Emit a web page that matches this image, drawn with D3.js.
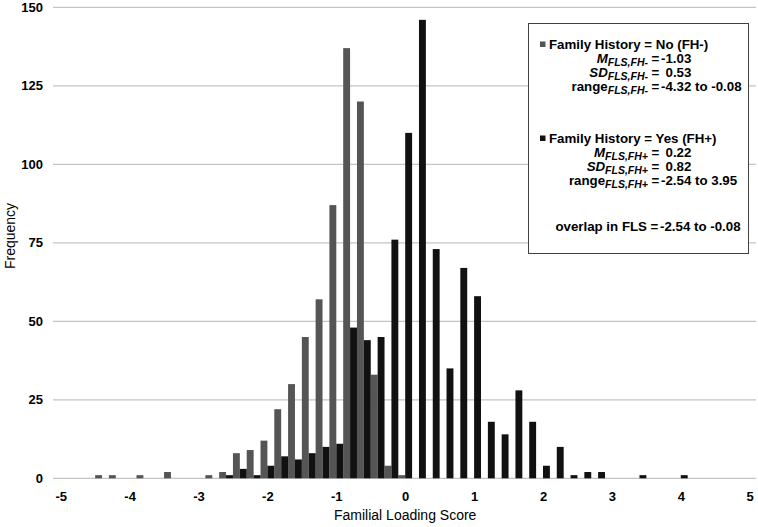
<!DOCTYPE html>
<html>
<head>
<meta charset="utf-8">
<script src="https://cdn.jsdelivr.net/npm/d3@7"></script>
<style>
  body { margin: 0; background: #fff; }
  svg { display: block; font-family: "Liberation Sans", Arial, sans-serif; }
  .tick text { font-weight: bold; font-size: 13px; fill: #000; }
  .legend text { font-weight: bold; font-size: 13.3px; fill: #000; }
</style>
</head>
<body>
<div id="chart"></div>
<script>
// Histogram bin centres (width 0.2)
const binCenters = [-4.4, -4.2, -4.0, -3.8, -3.6, -3.4, -3.2, -3.0, -2.8, -2.6, -2.4, -2.2, -2.0,
  -1.8, -1.6, -1.4, -1.2, -1.0, -0.8, -0.6, -0.4, -0.2, 0.0, 0.2, 0.4, 0.6, 0.8, 1.0, 1.2,
  1.4, 1.6, 1.8, 2.0, 2.2, 2.4, 2.6, 2.8, 3.0, 3.2, 3.4, 3.6, 3.8, 4.0];

// Family History = No (FH-)
const freqNo = [1, 1, 0, 1, 0, 2, 0, 0, 1, 2, 8, 9, 12,
  22, 30, 45, 57, 87, 137, 120, 33, 4, 1, 0, 0, 0, 0, 0, 0,
  0, 0, 0, 0, 0, 0, 0, 0, 0, 0, 0, 0, 0, 0];

// Family History = Yes (FH+)
const freqYes = [0, 0, 0, 0, 0, 0, 0, 0, 0, 1, 3, 1, 4,
  7, 6, 8, 10, 11, 48, 44, 45, 76, 110, 146, 73, 35, 67, 58, 18,
  14, 28, 18, 4, 10, 1, 2, 2, 0, 0, 1, 0, 0, 1];

const xTicks = [-5, -4, -3, -2, -1, 0, 1, 2, 3, 4, 5];
const yTicks = [0, 25, 50, 75, 100, 125, 150];

const BIN = 0.2;
const COLOR_NO = '#555555';
const COLOR_YES = '#111111';

const W = 758, H = 527;
const GRID_LEFT = 53, GRID_RIGHT = 756;

const svg = d3.select('#chart').append('svg')
  .attr('width', W)
  .attr('height', H);

const x = d3.scaleLinear().domain([-5, 5]).range([60.7, 749.7]);
const y = d3.scaleLinear().domain([0, 150]).range([478.3, 7.3]);

// gridlines
svg.append('g')
  .selectAll('line')
  .data(yTicks)
  .enter()
  .append('line')
  .attr('x1', GRID_LEFT)
  .attr('x2', GRID_RIGHT)
  .attr('y1', d => y(d))
  .attr('y2', d => y(d))
  .attr('stroke', '#c4c4c4')
  .attr('stroke-width', 1.3);

// bars: FH- on the left half of each bin, FH+ on the right half
const bars = binCenters.map((c, i) => ({ c, no: freqNo[i], yes: freqYes[i] }));

svg.append('g')
  .selectAll('rect')
  .data(bars.filter(d => d.no > 0))
  .enter()
  .append('rect')
  .attr('x', d => x(d.c - BIN / 2))
  .attr('width', d => x(d.c) - x(d.c - BIN / 2))
  .attr('y', d => y(d.no))
  .attr('height', d => y(0) - y(d.no))
  .attr('fill', COLOR_NO);

svg.append('g')
  .selectAll('rect')
  .data(bars.filter(d => d.yes > 0))
  .enter()
  .append('rect')
  .attr('x', d => x(d.c))
  .attr('width', d => x(d.c + BIN / 2) - x(d.c))
  .attr('y', d => y(d.yes))
  .attr('height', d => y(0) - y(d.yes))
  .attr('fill', COLOR_YES);

// axes (labels only)
svg.append('g')
  .attr('transform', `translate(${GRID_LEFT},0)`)
  .call(d3.axisLeft(y).tickValues(yTicks).tickSize(0).tickPadding(10).tickFormat(d => String(d)))
  .call(g => g.select('.domain').remove());

svg.append('g')
  .attr('transform', `translate(0,${y(0)})`)
  .call(d3.axisBottom(x).tickValues(xTicks).tickSize(0).tickPadding(13).tickFormat(d => String(d)))
  .call(g => g.select('.domain').remove());

// axis titles
svg.append('text')
  .attr('x', x(0))
  .attr('y', 520)
  .attr('text-anchor', 'middle')
  .attr('font-size', '14px')
  .text('Familial Loading Score');

svg.append('text')
  .attr('transform', 'translate(15,236) rotate(-90)')
  .attr('text-anchor', 'middle')
  .attr('font-size', '14px')
  .text('Frequency');

// legend / stats box
const legend = svg.append('g').attr('class', 'legend');

legend.append('rect')
  .attr('x', 528.5)
  .attr('y', 23.5)
  .attr('width', 220)
  .attr('height', 230)
  .attr('fill', '#fff')
  .attr('stroke', '#404040')
  .attr('stroke-width', 1);

const seriesRows = [
  { label: 'Family History = No (FH-)', color: COLOR_NO, y: 49 },
  { label: 'Family History = Yes (FH+)', color: COLOR_YES, y: 143 }
];

seriesRows.forEach(r => {
  legend.append('rect')
    .attr('x', 540).attr('y', r.y - 7.5)
    .attr('width', 5.5).attr('height', 5.5)
    .attr('fill', r.color);
  legend.append('text')
    .attr('x', 549).attr('y', r.y)
    .text(r.label);
});

const LABEL_END = 648, EQ_X = 651.5, NEG_START = 661, POS_START = 665.5;

const statRows = [
  { main: 'M', italic: true, sub: 'FLS,FH-', value: '-1.03', y: 63 },
  { main: 'SD', italic: true, sub: 'FLS,FH-', value: '0.53', y: 77 },
  { main: 'range', italic: false, sub: 'FLS,FH-', value: '-4.32 to -0.08', y: 91 },
  { main: 'M', italic: true, sub: 'FLS,FH+', value: '0.22', y: 157 },
  { main: 'SD', italic: true, sub: 'FLS,FH+', value: '0.82', y: 171 },
  { main: 'range', italic: false, sub: 'FLS,FH+', value: '-2.54 to 3.95', y: 185 }
];

statRows.forEach(r => {
  const t = legend.append('text')
    .attr('x', LABEL_END).attr('y', r.y)
    .attr('text-anchor', 'end');
  t.append('tspan')
    .attr('font-style', r.italic ? 'italic' : 'normal')
    .text(r.main);
  t.append('tspan')
    .attr('font-style', 'italic')
    .attr('font-size', '10.5px')
    .attr('dy', 3)
    .text(r.sub);
  legend.append('text')
    .attr('x', EQ_X).attr('y', r.y)
    .text('=');
  legend.append('text')
    .attr('x', r.value.startsWith('-') ? NEG_START : POS_START).attr('y', r.y)
    .text(r.value);
});

legend.append('text')
  .attr('x', LABEL_END - 1).attr('y', 231)
  .attr('text-anchor', 'end')
  .text('overlap in FLS');
legend.append('text')
  .attr('x', EQ_X - 1).attr('y', 231)
  .text('=');
legend.append('text')
  .attr('x', NEG_START - 1).attr('y', 231)
  .text('-2.54 to -0.08');
</script>
</body>
</html>
